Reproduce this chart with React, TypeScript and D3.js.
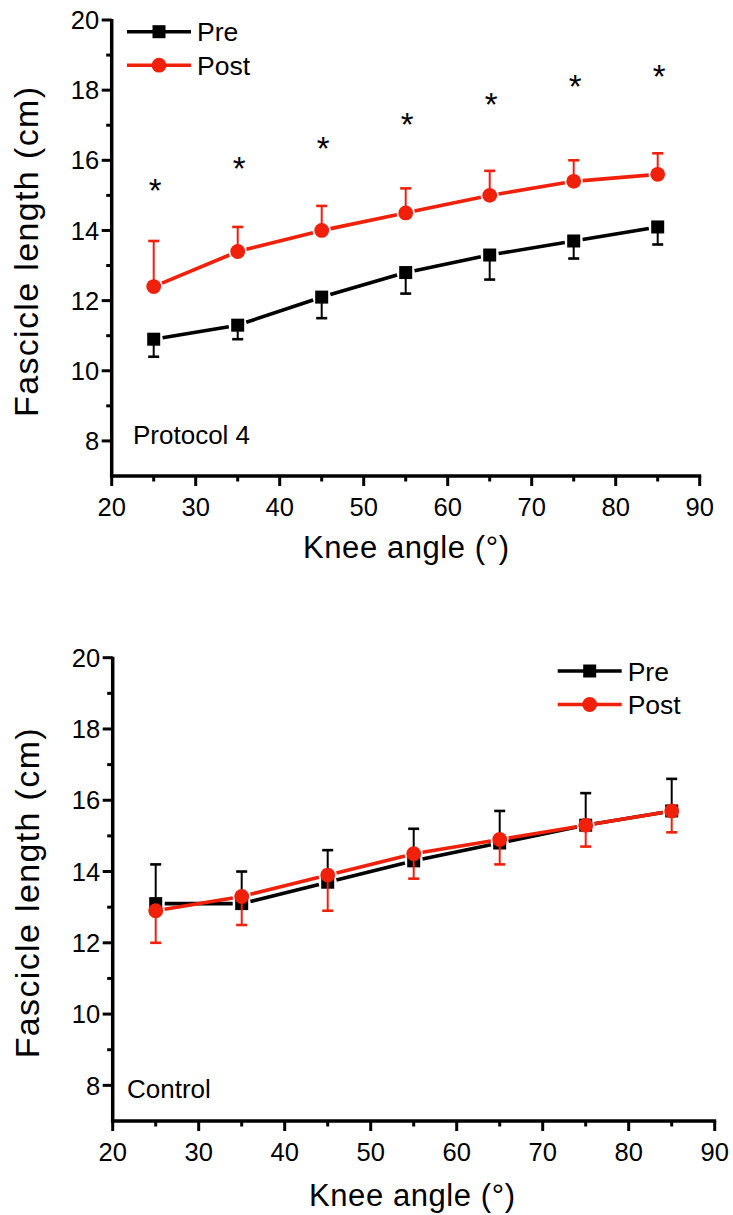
import React from 'react'
import * as d3 from 'd3'

// knee angles (deg)
const angles = [25, 35, 45, 55, 65, 75, 85]

// Protocol 4
const protoPre = [10.9, 11.3, 12.1, 12.8, 13.3, 13.7, 14.1]
const protoPreLow = [10.4, 10.9, 11.5, 12.2, 12.6, 13.2, 13.6]
const protoPost = [12.4, 13.4, 14.0, 14.5, 15.0, 15.4, 15.6]
const protoPostHigh = [13.7, 14.1, 14.7, 15.2, 15.7, 16.0, 16.2]
const protoStars = [15.35, 15.98, 16.56, 17.24, 17.81, 18.31, 18.6]

// Control
const ctrlPre = [13.1, 13.1, 13.7, 14.3, 14.8, 15.3, 15.7]
const ctrlPreHigh = [14.2, 14.0, 14.6, 15.2, 15.7, 16.2, 16.6]
const ctrlPost = [12.9, 13.3, 13.9, 14.5, 14.9, 15.3, 15.7]
const ctrlPostLow = [12.0, 12.5, 12.9, 13.8, 14.2, 14.7, 15.1]

const xMajor = [20, 30, 40, 50, 60, 70, 80, 90]
const xMinor = [25, 35, 45, 55, 65, 75, 85]
const yMajor = [8, 10, 12, 14, 16, 18, 20]
const yMinor = [9, 11, 13, 15, 17, 19]

const RED = '#f0200a'
const FONT = 'Arial, "Liberation Sans", sans-serif'

// line between markers, leaving a small gap round each marker
function gappedSegments(pts, gap) {
    let segs = []
    for (let i = 1; i < pts.length; i++) {
        let [x0, y0] = pts[i - 1]
        let [x1, y1] = pts[i]
        let len = Math.hypot(x1 - x0, y1 - y0)
        let ux = (x1 - x0) / len, uy = (y1 - y0) / len
        segs.push([x0 + ux * gap, y0 + uy * gap, x1 - ux * gap, y1 - uy * gap])
    }
    return segs
}

function Series({ x, y, vals, errs, color, marker }) {
    let pts = angles.map((a, i) => [x(a), y(vals[i])])
    return (
        <g>
            {angles.map((a, i) => (
                <g key={'e' + a}>
                    <line x1={x(a)} x2={x(a)} y1={y(vals[i])} y2={y(errs[i])} stroke={color} strokeWidth={2} />
                    <line x1={x(a) - 5.5} x2={x(a) + 5.5} y1={y(errs[i])} y2={y(errs[i])} stroke={color} strokeWidth={2.6} />
                </g>
            ))}
            {gappedSegments(pts, 9).map((s, i) => (
                <line key={'s' + i} x1={s[0]} y1={s[1]} x2={s[2]} y2={s[3]} stroke={color} strokeWidth={3.6} />
            ))}
            {pts.map((p, i) => marker === 'square'
                ? <rect key={'m' + i} x={p[0] - 6.5} y={p[1] - 6.5} width={13} height={13} fill={color} />
                : <circle key={'m' + i} cx={p[0]} cy={p[1]} r={7.4} fill={color} />
            )}
        </g>
    )
}

function Legend({ x0, y0 }) {
    let rows = [
        { name: 'Pre', color: '#000', marker: 'square' },
        { name: 'Post', color: RED, marker: 'circle' },
    ]
    return (
        <g>
            {rows.map((r, i) => {
                let yy = y0 + i * 33.5
                return (
                    <g key={r.name}>
                        <line x1={x0} x2={x0 + 64} y1={yy} y2={yy} stroke={r.color} strokeWidth={3.6} />
                        {r.marker === 'square'
                            ? <rect x={x0 + 25.5} y={yy - 6.5} width={13} height={13} fill={r.color} />
                            : <circle cx={x0 + 32} cy={yy} r={7.4} fill={r.color} />}
                        <text x={x0 + 70} y={yy + 9.5} fontSize={26.5} fontFamily={FONT}>{r.name}</text>
                    </g>
                )
            })}
        </g>
    )
}

function Panel({ xRange, yRange, pre, preErr, post, postErr, stars, label, labelPos, legendPos, titleX, titleY, yTitleX }) {
    let x = d3.scaleLinear().domain([20, 90]).range(xRange)
    let y = d3.scaleLinear().domain([7, 20]).range(yRange)
    let ax = x(20), ay = y(7)
    return (
        <g fontFamily={FONT}>
            {/* axes */}
            <line x1={ax} x2={ax} y1={y(20) - 1} y2={ay + 1.75} stroke="#000" strokeWidth={3.5} />
            <line x1={ax - 1.75} x2={x(90) + 1.5} y1={ay} y2={ay} stroke="#000" strokeWidth={3.5} />
            {yMajor.map(v => (
                <g key={'ym' + v}>
                    <line x1={ax - 10} x2={ax} y1={y(v)} y2={y(v)} stroke="#000" strokeWidth={3} />
                    <text x={ax - 12.5} y={y(v)} dy="0.36em" textAnchor="end" fontSize={25.5}>{v}</text>
                </g>
            ))}
            {yMinor.map(v => (
                <line key={'yn' + v} x1={ax - 5.5} x2={ax} y1={y(v)} y2={y(v)} stroke="#000" strokeWidth={3} />
            ))}
            {xMajor.map(v => (
                <g key={'xm' + v}>
                    <line x1={x(v)} x2={x(v)} y1={ay} y2={ay + 10} stroke="#000" strokeWidth={3} />
                    <text x={x(v)} y={ay + 39.5} textAnchor="middle" fontSize={25.5}>{v}</text>
                </g>
            ))}
            {xMinor.map(v => (
                <line key={'xn' + v} x1={x(v)} x2={x(v)} y1={ay} y2={ay + 5.5} stroke="#000" strokeWidth={3} />
            ))}

            {/* titles */}
            <text x={titleX} y={titleY} textAnchor="middle" fontSize={31} textLength={206} lengthAdjust="spacing">Knee angle (°)</text>
            <text transform={`translate(${yTitleX},${(y(7) + y(20)) / 2 + 4}) rotate(-90)`} textAnchor="middle" fontSize={34} textLength={330} lengthAdjust="spacing">Fascicle length (cm)</text>
            <text x={labelPos[0]} y={labelPos[1]} fontSize={26}>{label}</text>

            {/* data */}
            <Series x={x} y={y} vals={pre} errs={preErr} color="#000" marker="square" />
            <Series x={x} y={y} vals={post} errs={postErr} color={RED} marker="circle" />

            {stars && angles.map((a, i) => (
                <text key={'st' + a} x={x(a) + 1.5} y={y(stars[i]) + 19} textAnchor="middle" fontSize={33}>*</text>
            ))}

            <Legend x0={legendPos[0]} y0={legendPos[1]} />
        </g>
    )
}

export default function App() {
    return (
        <div style={{ position: 'absolute', left: 0, top: 0 }}>
            <svg width={733} height={1215} style={{ display: 'block', background: '#fff' }}>
                <Panel
                    xRange={[111.7, 699.7]} yRange={[476, 20]}
                    pre={protoPre} preErr={protoPreLow}
                    post={protoPost} postErr={protoPostHigh}
                    stars={protoStars}
                    label="Protocol 4" labelPos={[133, 444]}
                    legendPos={[127, 31.7]}
                    titleX={406} titleY={558} yTitleX={38}
                />
                <Panel
                    xRange={[112.7, 714.7]} yRange={[1121, 657.7]}
                    pre={ctrlPre} preErr={ctrlPreHigh}
                    post={ctrlPost} postErr={ctrlPostLow}
                    label="Control" labelPos={[127, 1098]}
                    legendPos={[557.7, 671]}
                    titleX={412} titleY={1206} yTitleX={39}
                />
            </svg>
        </div>
    )
}
